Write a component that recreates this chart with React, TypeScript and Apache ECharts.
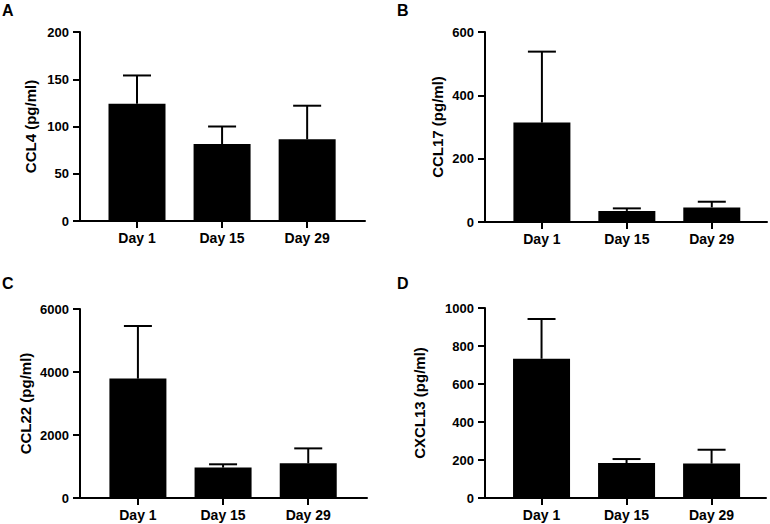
import React, { useEffect, useRef } from "react";
import * as echarts from "echarts";

const days = ["Day 1", "Day 15", "Day 29"];

const ccl4Mean = [124, 81.5, 86.5];
const ccl4Upper = [154, 100, 122];
const ccl4Ticks = [0, 50, 100, 150, 200];

const ccl17Mean = [314, 35, 46];
const ccl17Upper = [538, 43, 64];
const ccl17Ticks = [0, 200, 400, 600];

const ccl22Mean = [3790, 965, 1100];
const ccl22Upper = [5460, 1070, 1575];
const ccl22Ticks = [0, 2000, 4000, 6000];

const cxcl13Mean = [733, 184, 181];
const cxcl13Upper = [942, 205, 254];
const cxcl13Ticks = [0, 200, 400, 600, 800, 1000];

const panelLetters = ["A", "B", "C", "D"];
const axisNames = ["CCL4 (pg/ml)", "CCL17 (pg/ml)", "CCL22 (pg/ml)", "CXCL13 (pg/ml)"];

const FONT = "'Liberation Sans', Arial, sans-serif";

export default function App() {
  const ref = useRef<HTMLDivElement>(null);
  useEffect(() => {
    document.body.style.margin = "0";
    const chart = echarts.init(ref.current!, null, { renderer: "svg" });

    const panels = [
      { mean: ccl4Mean, upper: ccl4Upper, ticks: ccl4Ticks, grid: { left: 80, top: 32, width: 285, height: 189 }, xmin: -0.67, xmax: 2.68, gap: 42 },
      { mean: ccl17Mean, upper: ccl17Upper, ticks: ccl17Ticks, grid: { left: 485, top: 32, width: 282, height: 190 }, xmin: -0.67, xmax: 2.65, gap: 40 },
      { mean: ccl22Mean, upper: ccl22Upper, ticks: ccl22Ticks, grid: { left: 80, top: 309, width: 287, height: 189 }, xmin: -0.68, xmax: 2.69, gap: 47 },
      { mean: cxcl13Mean, upper: cxcl13Upper, ticks: cxcl13Ticks, grid: { left: 485, top: 308, width: 281, height: 190 }, xmin: -0.665, xmax: 2.64, gap: 58 },
    ];

    const axisLine = { show: true, onZero: false, lineStyle: { color: "#000", width: 2 } };
    const axisTick = { show: true, length: 7, lineStyle: { color: "#000", width: 2 } };

    const grid: any[] = [];
    const xAxis: any[] = [];
    const yAxis: any[] = [];
    const series: any[] = [];

    panels.forEach((p, i) => {
      grid.push({ ...p.grid, containLabel: false });
      xAxis.push({
        type: "value",
        gridIndex: i,
        min: p.xmin,
        max: p.xmax,
        axisLine,
        axisTick: { ...axisTick, customValues: [0, 1, 2] },
        axisLabel: {
          customValues: [0, 1, 2],
          formatter: (v: number) => days[Math.round(v)],
          color: "#000",
          fontFamily: FONT,
          fontWeight: "bold",
          fontSize: 14,
          margin: 10,
        },
        splitLine: { show: false },
      });
      const step = p.ticks[1] - p.ticks[0];
      yAxis.push({
        type: "value",
        gridIndex: i,
        min: p.ticks[0],
        max: p.ticks[p.ticks.length - 1],
        interval: step,
        name: axisNames[i],
        nameLocation: "middle",
        nameGap: p.gap,
        nameTextStyle: { color: "#000", fontFamily: FONT, fontWeight: "bold", fontSize: 15 },
        axisLine,
        axisTick,
        axisLabel: {
          color: "#000",
          fontFamily: FONT,
          fontWeight: "bold",
          fontSize: 13,
          margin: 11,
          formatter: (v: number) => String(v),
        },
        splitLine: { show: false },
      });
      series.push({
        type: "bar",
        xAxisIndex: i,
        yAxisIndex: i,
        barWidth: 57,
        itemStyle: { color: "#000" },
        data: p.mean.map((v, k) => [k, v]),
        z: 2,
      });
      series.push({
        type: "custom",
        xAxisIndex: i,
        yAxisIndex: i,
        data: p.mean.map((v, k) => [k, v, p.upper[k]]),
        renderItem: (params: any, api: any) => {
          const x = api.value(0);
          const lo = api.coord([x, api.value(1)]);
          const hi = api.coord([x, api.value(2)]);
          const half = 14;
          return {
            type: "group",
            children: [
              { type: "line", shape: { x1: lo[0], y1: lo[1], x2: hi[0], y2: hi[1] }, style: { stroke: "#000", lineWidth: 2 } },
              { type: "line", shape: { x1: hi[0] - half, y1: hi[1], x2: hi[0] + half, y2: hi[1] }, style: { stroke: "#000", lineWidth: 2 } },
            ],
          };
        },
        z: 3,
      });
    });

    const letterPos = [
      { left: 2, top: 2 },
      { left: 397, top: 2 },
      { left: 2, top: 275 },
      { left: 397, top: 275 },
    ];

    chart.setOption({
      animation: false,
      backgroundColor: "#fff",
      grid,
      xAxis,
      yAxis,
      series,
      graphic: panelLetters.map((l, i) => ({
        type: "text",
        left: letterPos[i].left,
        top: letterPos[i].top,
        style: { text: l, fill: "#000", font: `bold 16px ${FONT}` },
      })),
    });
    return () => chart.dispose();
  }, []);
  return <div ref={ref} style={{ width: 770, height: 524 }} />;
}
